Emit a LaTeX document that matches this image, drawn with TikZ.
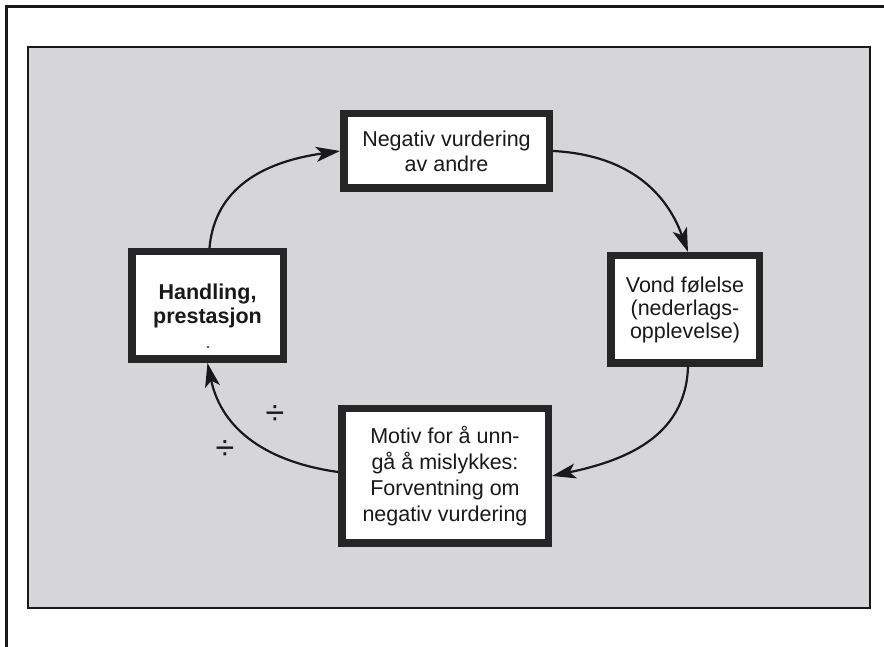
\documentclass[tikz,border=0pt]{standalone}
\usepackage{fontspec}
\setmainfont{Liberation Sans}
\usetikzlibrary{arrows.meta}
\definecolor{panelgray}{RGB}{214,214,217}
\definecolor{boxedge}{RGB}{38,38,38}
\definecolor{ink}{RGB}{25,25,25}
\begin{document}
\begin{tikzpicture}[x=1pt,y=1pt,
  box/.style={draw=boxedge, line width=7.5pt, fill=white, inner sep=0pt,
    align=center, font=\fontsize{21.5}{25}\selectfont, text=ink},
  flow/.style={line width=2.2pt, draw=ink,
    -{Stealth[length=24pt,width=15pt,inset=6pt]}},
  sym/.style={font=\fontsize{34}{34}\selectfont, text=ink, inner sep=0pt}
]
\useasboundingbox (0,0) rectangle (884,647);
\fill[white] (0,0) rectangle (884,647);
\draw[line width=3pt, ink] (6.5,0) -- (6.5,640.5) -- (884,640.5);
\draw[fill=panelgray, line width=2pt, draw=ink] (28,39) rectangle (870,600);

\node[box, minimum width=205.5pt, minimum height=74.5pt] (neg) at (446.5,496)
  {Negativ vurdering\\av andre};
\node[box, minimum width=151.5pt, minimum height=107.5pt, font=\fontsize{21.5}{24}\selectfont\bfseries] (hand) at (207.5,341.5)
  {Handling,\\prestasjon};
\node[box, minimum width=148.5pt, minimum height=107.5pt, font=\fontsize{21.5}{23}\selectfont] (vond) at (685,337.5)
  {Vond følelse\\(nederlags-\\opplevelse)};
\node[box, minimum width=206.5pt, minimum height=134.5pt, font=\fontsize{21.5}{26}\selectfont] (motiv) at (445,171)
  {Motiv for å unn-\\gå å mislykkes:\\Forventning om\\negativ vurdering};

\fill[ink] (208,300) circle (1.2pt);

\draw[flow] ([xshift=2pt]hand.north) to[out=85,in=188,looseness=1.05] (neg.west);
\draw[flow] (neg.east) to[out=-3,in=110,looseness=1.05] ([xshift=3pt]vond.north);
\draw[flow] ([xshift=3pt]vond.south) to[out=-92,in=12,looseness=1.05] (motiv.east);
\draw[flow] ([yshift=4pt]motiv.west) to[out=172,in=-78,looseness=1.05] (hand.south);

\node[sym] (d1) at (275,232) {÷};
\node[sym] (d2) at (225,197) {÷};
\end{tikzpicture}
\end{document}
